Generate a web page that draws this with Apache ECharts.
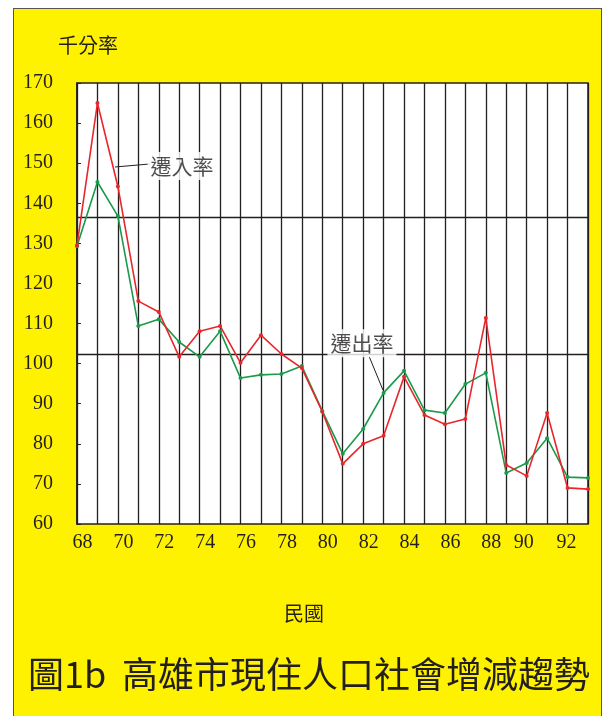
<!DOCTYPE html>
<html>
<head>
<meta charset="utf-8">
<script src="https://cdn.jsdelivr.net/npm/echarts@6/dist/echarts.min.js"></script>
<style>
  html, body { margin: 0; padding: 0; background: #fff; }
  #frame {
    position: absolute; left: 13px; top: 8px;
    width: 587px; height: 720px;
    background: #fff200; border: 1.5px solid #555;
  }
  #chart { position: absolute; left: 0; top: 0; width: 606px; height: 716px; }
</style>
</head>
<body>
<div id="frame"></div>
<div id="chart"></div>
<script>
// 民國年
const years = [68, 69, 70, 71, 72, 73, 74, 75, 76, 77, 78, 79, 80, 81, 82, 83, 84, 85, 86, 87, 88, 89, 90, 91, 92, 93]
// 遷入率 (千分率)
const inRate = [129.5, 165.0, 144.2, 115.6, 112.9, 101.7, 108.1, 109.4, 100.2, 107.1, 102.4, 98.9, 88.0,
  75.0, 80.0, 82.0, 96.7, 87.2, 84.9, 86.2, 111.4, 74.7, 72.0, 87.7, 69.0, 68.7]
// 遷出率 (千分率)
const outRate = [129.3, 145.3, 136.8, 109.4, 111.1, 105.4, 101.7, 108.1, 96.4, 97.2, 97.4, 99.4, 88.2,
  77.5, 83.7, 92.7, 98.2, 88.4, 87.7, 94.9, 97.7, 72.7, 75.2, 81.4, 71.7, 71.5]
// 兩條橫向參考線
const refLines = [136.6, 102.4]
// 標註文字與位置 (資料座標)
const noteNames = ['遷入率', '遷出率']
const notePos = [[73.14, 149.3], [81.94, 105.1]]
const leaders = [
  [[69.86, 149.05], [71.57, 149.8]],
  [[82.3, 101.7], [82.97, 93.4]]
]

const ink = '#231f20'
const serif = '"Liberation Serif", "Times New Roman", serif'
const cjk = '"Noto Sans CJK TC", "Noto Sans CJK SC", sans-serif'

const chart = echarts.init(document.getElementById('chart'))

const pairs = arr => years.map((y, i) => [y, arr[i]])

const option = {
  animation: false,
  backgroundColor: 'transparent',
  grid: {
    left: 77, right: 18, top: 83, bottom: 192,
    show: true,
    backgroundColor: '#fff',
    borderColor: ink,
    borderWidth: 1.5
  },
  xAxis: {
    type: 'value',
    min: 68,
    max: 93,
    interval: 1,
    name: '民國',
    nameLocation: 'middle',
    nameGap: 79,
    nameTextStyle: { fontFamily: cjk, fontSize: 20, color: ink, padding: [0, 57, 0, 0] },
    axisLine: { show: false },
    axisTick: { show: false },
    splitLine: { show: true, lineStyle: { color: ink, width: 1.3 } },
    axisLabel: {
      margin: 9,
      formatter: v => {
        if (v % 2 !== 0 || v > 92) return ''
        if (v === 90) return '{l|' + v + '}'
        if (v === 92) return '{m|' + v + '}'
        return '{r|' + v + '}'
      },
      rich: {
        r: { fontFamily: serif, fontSize: 20, color: ink, padding: [0, 0, 0, 11] },
        l: { fontFamily: serif, fontSize: 20, color: ink, padding: [0, 6, 0, 0] },
        m: { fontFamily: serif, fontSize: 20, color: ink, padding: [0, 2, 0, 0] }
      }
    }
  },
  yAxis: {
    type: 'value',
    min: 60,
    max: 170,
    interval: 10,
    name: '千分率',
    nameLocation: 'end',
    nameGap: 38,
    nameTextStyle: { fontFamily: cjk, fontSize: 20, color: ink, align: 'center', verticalAlign: 'middle', padding: [0, 0, 0, 22] },
    axisLine: { show: true, lineStyle: { color: ink, width: 1.5 } },
    axisTick: { show: true, inside: true, length: 4, lineStyle: { color: ink, width: 1 } },
    splitLine: { show: false },
    axisLabel: { margin: 24, fontFamily: serif, fontSize: 20, color: ink }
  },
  graphic: [
    {
      type: 'text', left: 28, top: 656,
      style: { text: '圖1b', font: '36px ' + cjk, fill: ink }
    },
    {
      type: 'text', left: 122, top: 656,
      style: { text: '高雄市現住人口社會增減趨勢', font: '36px ' + cjk, fill: ink }
    }
  ],
  series: [
    {
      name: '遷出率',
      type: 'line',
      data: pairs(outRate),
      symbol: 'circle',
      symbolSize: 4,
      itemStyle: { color: '#1a9a4a' },
      lineStyle: { color: '#1a9a4a', width: 1.6 },
      markLine: {
        z: 1,
        silent: true,
        symbol: ['none', 'none'],
        label: { show: false },
        lineStyle: { color: ink, width: 1.3, type: 'solid' },
        data: refLines.map(v => ({ yAxis: v }))
      }
    },
    {
      name: '遷入率',
      type: 'line',
      data: pairs(inRate),
      symbol: 'circle',
      symbolSize: 4,
      itemStyle: { color: '#e8262b' },
      lineStyle: { color: '#e8262b', width: 1.6 }
    },
    {
      // 標註文字
      type: 'scatter',
      z: 10,
      symbolSize: 0,
      data: noteNames.map((n, i) => ({ name: n, value: notePos[i] })),
      label: {
        show: true,
        position: 'inside',
        formatter: '{b}',
        fontFamily: cjk,
        fontSize: 21,
        lineHeight: 22,
        color: ink,
        backgroundColor: '#fff',
        padding: [3, 3]
      },
      markLine: {
        silent: true,
        symbol: ['none', 'none'],
        label: { show: false },
        lineStyle: { color: ink, width: 1, type: 'solid' },
        data: leaders.map(l => [{ coord: l[0] }, { coord: l[1] }])
      }
    }
  ]
}

chart.setOption(option)
</script>
</body>
</html>
